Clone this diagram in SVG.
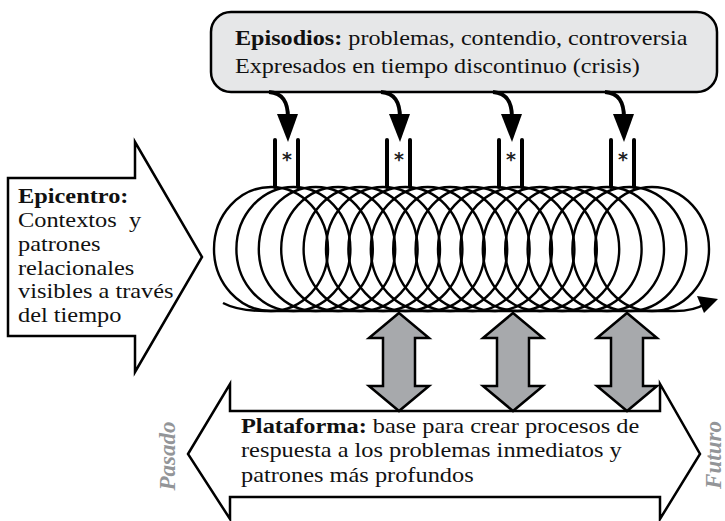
<svg xmlns="http://www.w3.org/2000/svg" width="725" height="521" viewBox="0 0 725 521">
<style>
  .t { font-family: "Liberation Serif", "Times New Roman", serif; font-size: 21px; fill: #111; }
  .b { font-weight: bold; }
  .side { font-family: "Liberation Serif", serif; font-size: 23px; font-style: italic; font-weight: bold; fill: #939598; }
  .outline { fill: #fff; stroke: #000; stroke-width: 2.5; stroke-linejoin: miter; }
  .bar { stroke: #000; stroke-width: 4; stroke-linecap: round; }
  .curve { fill: none; stroke: #000; stroke-width: 4; }
  .vd { fill: #a7a9ac; stroke: #000; stroke-width: 2.5; }
  .ast { font-family: "DejaVu Sans", sans-serif; font-weight: bold; font-size: 19px; fill: #222; text-anchor: middle; }
</style>
<defs>
  <ellipse id="ring" cx="0" cy="249" rx="57" ry="62" fill="none" stroke="#000" stroke-width="2.4"/>
  <g id="ep">
    <path class="curve" d="M-18,92 C-4,93 1,102 1,118"/>
    <polygon points="-10,114 11,114 1,142" fill="#000"/>
    <line class="bar" x1="-12" y1="140" x2="-12" y2="187"/>
    <line class="bar" x1="11" y1="140" x2="11" y2="187"/>
    <text class="ast" x="0" y="166">*</text>
  </g>
  <polygon id="vd" points="0,313 30,338 16,338 16,386 30,386 0,411 -30,386 -16,386 -16,338 -30,338"/>
</defs>

<g id="epicentro">
  <polygon class="outline" points="8,178 135,178 135,142 202,257 135,372 135,336 8,336"/>
  <g transform="translate(18,0) scale(1.16,1)">
    <text class="t" x="0" y="203"><tspan class="b">Epicentro:</tspan></text>
    <text class="t" x="0" y="227" xml:space="preserve">Contextos  y</text>
    <text class="t" x="0" y="251">patrones</text>
    <text class="t" x="0" y="275">relacionales</text>
    <text class="t" x="0" y="298">visibles a través</text>
    <text class="t" x="0" y="322">del tiempo</text>
  </g>
</g>

<g id="plataforma">
  <polygon class="outline" points="188,454 230,384 230,411 660,411 660,384 700,454 660,519 660,497 230,497 230,519"/>
  <g transform="translate(241,0) scale(1.16,1)">
    <text class="t" x="0" y="433"><tspan class="b">Plataforma:</tspan> base para crear procesos de</text>
    <text class="t" x="0" y="457">respuesta a los problemas inmediatos y</text>
    <text class="t" x="0" y="482">patrones más profundos</text>
  </g>
</g>

<g id="pasado">
  <text class="side" transform="translate(175,456) rotate(-90)" text-anchor="middle">Pasado</text>
</g>
<g id="futuro">
  <text class="side" transform="translate(721,455) rotate(-90)" text-anchor="middle">Futuro</text>
</g>

<g id="coil">
  <use href="#ring" x="271"/><use href="#ring" x="293.4"/><use href="#ring" x="315.8"/><use href="#ring" x="338.2"/>
  <use href="#ring" x="360.6"/><use href="#ring" x="383"/><use href="#ring" x="405.4"/><use href="#ring" x="427.8"/>
  <use href="#ring" x="450.2"/><use href="#ring" x="472.6"/><use href="#ring" x="495"/><use href="#ring" x="517.4"/>
  <use href="#ring" x="539.8"/><use href="#ring" x="562.2"/><use href="#ring" x="584.6"/><use href="#ring" x="607"/>
  <use href="#ring" x="629.4"/><use href="#ring" x="652"/>
  <path d="M223,303 Q238,311 265,311 L675,311 Q694,311 705,304" fill="none" stroke="#000" stroke-width="2.4"/>
  <polygon points="718,299 697,296 704,313" fill="#000"/>
</g>

<g id="episodios">
  <rect x="211" y="12" width="506" height="80" rx="20" ry="20" fill="#e6e7e8" stroke="#000" stroke-width="2.5"/>
  <g transform="translate(235,0) scale(1.15,1)">
    <text class="t" x="0" y="45"><tspan class="b">Episodios:</tspan> problemas, contendio, controversia</text>
    <text class="t" x="0" y="73">Expresados en tiempo discontinuo (crisis)</text>
  </g>
</g>

<g id="connectors">
  <use href="#ep" x="287"/>
  <use href="#ep" x="399"/>
  <use href="#ep" x="511"/>
  <use href="#ep" x="623"/>
  <use href="#vd" class="vd" x="399"/>
  <use href="#vd" class="vd" x="513"/>
  <use href="#vd" class="vd" x="627"/>
</g>
</svg>
